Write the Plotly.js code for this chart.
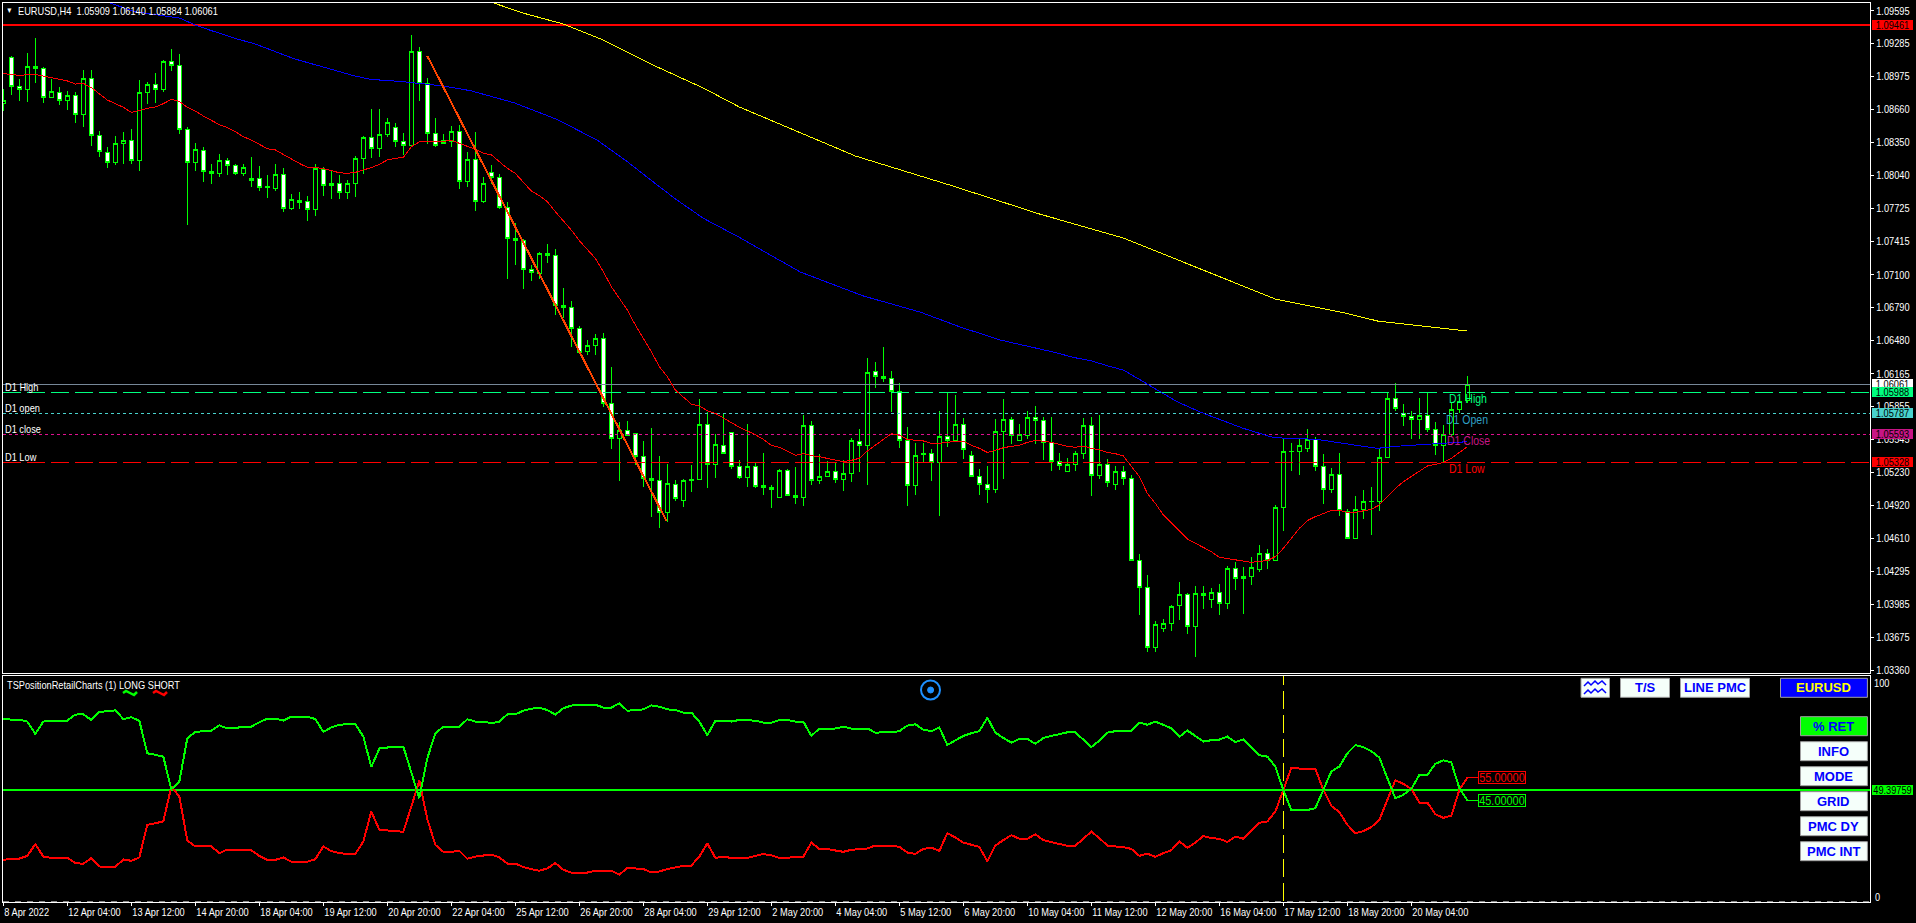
<!DOCTYPE html>
<html><head><meta charset="utf-8">
<script src="https://cdn.plot.ly/plotly-3.0.1.min.js"></script>
<style>
html,body{margin:0;padding:0;background:#000;overflow:hidden}
#c{width:1916px;height:923px}
.scatterlayer path,.boxlayer path{shape-rendering:crispEdges}
</style></head><body><div id="c"></div>
<script>
var FONT='"Liberation Sans",sans-serif';
var high=[1.08852,1.09167,1.08946,1.09195,1.09334,1.09060,1.08946,1.08871,1.08833,1.08827,
1.09031,1.09031,1.08455,1.08307,1.08408,1.08445,1.08477,1.08937,1.08921,1.09003,
1.09129,1.09230,1.09186,1.08493,1.08342,1.08304,1.08143,1.08238,1.08200,1.08143,
1.08143,1.08209,1.08127,1.08039,1.08143,1.08105,1.07863,1.07878,1.07841,1.08143,
1.08115,1.08077,1.08039,1.07992,1.08219,1.08408,1.08666,1.08666,1.08578,1.08531,
1.08436,1.09365,1.09249,1.08956,1.08578,1.08427,1.08502,1.08512,1.08257,1.08445,
1.08020,1.08134,1.08049,1.07784,1.07585,1.07434,1.07188,1.07312,1.07387,1.07340,
1.06971,1.06848,1.06612,1.06480,1.06537,1.06546,1.06225,1.05711,1.05721,1.05607,
1.05532,1.05648,1.05384,1.05311,1.05157,1.05166,1.05299,1.05922,1.05800,1.05591,
1.05790,1.05611,1.05349,1.05689,1.05317,1.05412,1.05113,1.05261,1.05261,1.05280,
1.05774,1.05714,1.05403,1.05336,1.05317,1.05346,1.05554,1.05639,1.06310,1.06272,
1.06414,1.06187,1.06073,1.05658,1.05506,1.05506,1.05450,1.05809,1.05988,1.05960,
1.05743,1.05431,1.05261,1.05289,1.05733,1.05922,1.05752,1.05686,1.05809,1.05856,
1.05752,1.05752,1.05412,1.05365,1.05431,1.05743,1.05752,1.05771,1.05355,1.05289,
1.05289,1.05204,1.04458,1.04259,1.03824,1.03843,1.03976,1.04193,1.04089,1.04155,
1.04155,1.04136,1.04174,1.04344,1.04382,1.04335,1.04429,1.04543,1.04505,1.04921,
1.05544,1.05506,1.05544,1.05639,1.05563,1.05403,1.05270,1.05412,1.04883,1.05006,
1.05062,1.05091,1.05450,1.05988,1.06073,1.05875,1.05809,1.05932,1.05988,1.05705,
1.05677,1.05884,1.05941,1.06140];
var low=[1.08650,1.08801,1.08745,1.08735,1.08915,1.08726,1.08773,1.08707,1.08660,1.08537,
1.08499,1.08320,1.08216,1.08112,1.08140,1.08150,1.08150,1.08083,1.08716,1.08726,
1.08830,1.09028,1.08433,1.07573,1.08083,1.07980,1.07961,1.08027,1.08045,1.08045,
1.08036,1.07932,1.07891,1.07828,1.07894,1.07696,1.07711,1.07724,1.07611,1.07658,
1.07847,1.07819,1.07819,1.07819,1.07838,1.08055,1.08206,1.08215,1.08398,1.08310,
1.08231,1.08323,1.08745,1.08332,1.08304,1.08332,1.08304,1.07907,1.07926,1.07705,
1.07781,1.07954,1.07718,1.07063,1.07195,1.06968,1.07044,1.07056,1.07207,1.06722,
1.06688,1.06414,1.06357,1.06345,1.06338,1.05853,1.05450,1.05148,1.05576,1.05305,
1.05091,1.04814,1.04710,1.04766,1.04965,1.04908,1.05050,1.05166,1.05088,1.05182,
1.05412,1.05261,1.05166,1.05097,1.05081,1.05021,1.04899,1.04993,1.05009,1.04936,
1.04917,1.05116,1.05119,1.05185,1.05135,1.05059,1.05144,1.05236,1.05110,1.06033,
1.06089,1.05806,1.05459,1.04917,1.05021,1.05327,1.05154,1.04823,1.05475,1.05522,
1.05362,1.05185,1.05021,1.04946,1.05040,1.05169,1.05497,1.05525,1.05547,1.05497,
1.05349,1.05248,1.05258,1.05242,1.05248,1.05362,1.05012,1.05173,1.05097,1.05069,
1.05116,1.04401,1.03887,1.03538,1.03538,1.03724,1.03736,1.03834,1.03708,1.03490,
1.03938,1.03947,1.03887,1.03941,1.04120,1.03897,1.04168,1.04287,1.04316,1.04401,
1.04681,1.05248,1.05210,1.05428,1.05242,1.04936,1.05040,1.04823,1.04599,1.04599,
1.04788,1.04643,1.04870,1.05365,1.05809,1.05673,1.05544,1.05544,1.05610,1.05393,
1.05327,1.05569,1.05790,1.05884];
var open=[1.08720,1.09154,1.08877,1.08849,1.09069,1.09050,1.08773,1.08824,1.08745,1.08795,
1.08612,1.08956,1.08417,1.08257,1.08159,1.08339,1.08370,1.08181,1.08824,1.08899,
1.08852,1.09117,1.09079,1.08474,1.08162,1.08276,1.08077,1.08058,1.08181,1.08134,
1.08058,1.07992,1.08011,1.07929,1.07913,1.08049,1.07727,1.07803,1.07793,1.07718,
1.08096,1.07945,1.07964,1.07878,1.07964,1.08200,1.08398,1.08294,1.08427,1.08493,
1.08360,1.08323,1.09211,1.08909,1.08436,1.08370,1.08360,1.08455,1.07982,1.08190,
1.07793,1.08068,1.08020,1.07737,1.07444,1.07425,1.07151,1.07113,1.07302,1.07283,
1.06811,1.06792,1.06593,1.06376,1.06433,1.06499,1.05885,1.05554,1.05626,1.05598,
1.05384,1.05176,1.05157,1.04855,1.05119,1.04968,1.05157,1.05166,1.05686,1.05308,
1.05488,1.05611,1.05289,1.05185,1.05289,1.05110,1.05091,1.04996,1.05251,1.05015,
1.04996,1.05677,1.05157,1.05195,1.05242,1.05166,1.05223,1.05525,1.05488,1.06187,
1.06140,1.06121,1.05998,1.05535,1.05110,1.05403,1.05412,1.05327,1.05573,1.05535,
1.05686,1.05393,1.05195,1.05119,1.05072,1.05620,1.05733,1.05535,1.05582,1.05752,
1.05724,1.05516,1.05336,1.05242,1.05308,1.05412,1.05677,1.05204,1.05308,1.05119,
1.05242,1.05176,1.04401,1.04146,1.03579,1.03758,1.03805,1.03976,1.04080,1.03777,
1.04089,1.04032,1.04098,1.03994,1.04325,1.04250,1.04250,1.04316,1.04467,1.04401,
1.04902,1.05428,1.05431,1.05459,1.05544,1.05289,1.05072,1.05214,1.04864,1.04609,
1.04883,1.04955,1.04958,1.05374,1.05932,1.05787,1.05762,1.05733,1.05771,1.05639,
1.05488,1.05592,1.05828,1.05909];
var close=[1.08748,1.08877,1.08852,1.09069,1.09047,1.08773,1.08833,1.08745,1.08795,1.08612,
1.08956,1.08417,1.08263,1.08162,1.08342,1.08370,1.08181,1.08824,1.08899,1.08852,
1.09117,1.09079,1.08474,1.08162,1.08285,1.08077,1.08058,1.08181,1.08134,1.08058,
1.08115,1.08011,1.07926,1.07923,1.08049,1.07727,1.07812,1.07784,1.07718,1.08108,
1.07945,1.07964,1.07878,1.07964,1.08200,1.08398,1.08294,1.08427,1.08540,1.08360,
1.08323,1.09211,1.08909,1.08436,1.08323,1.08342,1.08455,1.07982,1.08190,1.07793,
1.07964,1.08020,1.07737,1.07444,1.07425,1.07151,1.07122,1.07302,1.07283,1.06811,
1.06792,1.06593,1.06366,1.06433,1.06499,1.05885,1.05554,1.05626,1.05585,1.05384,
1.05176,1.05157,1.04855,1.05129,1.04987,1.05157,1.05163,1.05686,1.05308,1.05497,
1.05412,1.05289,1.05185,1.05289,1.05097,1.05091,1.05072,1.05251,1.05015,1.04996,
1.05677,1.05157,1.05195,1.05242,1.05166,1.05223,1.05535,1.05488,1.06177,1.06140,
1.06121,1.05998,1.05535,1.05110,1.05393,1.05412,1.05327,1.05573,1.05535,1.05686,
1.05450,1.05195,1.05119,1.05072,1.05620,1.05733,1.05582,1.05592,1.05752,1.05724,
1.05516,1.05336,1.05299,1.05308,1.05412,1.05677,1.05204,1.05308,1.05138,1.05242,
1.05176,1.04401,1.04146,1.03579,1.03796,1.03802,1.03966,1.04080,1.03777,1.04089,
1.04070,1.04098,1.03994,1.04325,1.04231,1.04231,1.04335,1.04467,1.04401,1.04902,
1.05431,1.05431,1.05488,1.05544,1.05289,1.05072,1.05214,1.04873,1.04609,1.04883,
1.04958,1.04958,1.05374,1.05932,1.05837,1.05762,1.05733,1.05771,1.05639,1.05488,
1.05592,1.05828,1.05903,1.06061];
var maRed=[1.09000,1.08990,1.08984,1.08990,1.08993,1.08978,1.08962,1.08953,1.08931,1.08902,
1.08908,1.08868,1.08808,1.08751,1.08716,1.08682,1.08634,1.08656,1.08672,1.08685,
1.08716,1.08757,1.08738,1.08682,1.08647,1.08600,1.08556,1.08518,1.08490,1.08452,
1.08404,1.08373,1.08332,1.08291,1.08279,1.08234,1.08190,1.08152,1.08115,1.08115,
1.08102,1.08083,1.08064,1.08058,1.08067,1.08090,1.08112,1.08143,1.08184,1.08200,
1.08209,1.08310,1.08354,1.08360,1.08360,1.08360,1.08370,1.08342,1.08319,1.08285,
1.08247,1.08234,1.08168,1.08105,1.08058,1.07979,1.07891,1.07847,1.07790,1.07696,
1.07607,1.07522,1.07422,1.07333,1.07255,1.07129,1.06987,1.06877,1.06767,1.06625,
1.06499,1.06373,1.06231,1.06136,1.06010,1.05947,1.05878,1.05859,1.05815,1.05790,
1.05749,1.05702,1.05658,1.05626,1.05588,1.05544,1.05488,1.05469,1.05434,1.05393,
1.05409,1.05390,1.05380,1.05365,1.05346,1.05333,1.05346,1.05365,1.05434,1.05491,
1.05547,1.05598,1.05582,1.05544,1.05535,1.05529,1.05506,1.05506,1.05516,1.05525,
1.05525,1.05488,1.05459,1.05421,1.05440,1.05465,1.05478,1.05488,1.05516,1.05535,
1.05525,1.05516,1.05497,1.05478,1.05469,1.05481,1.05459,1.05447,1.05421,1.05409,
1.05387,1.05286,1.05192,1.05034,1.04939,1.04829,1.04751,1.04672,1.04602,1.04562,
1.04524,1.04483,1.04429,1.04417,1.04404,1.04391,1.04382,1.04391,1.04398,1.04436,
1.04514,1.04609,1.04703,1.04776,1.04814,1.04842,1.04873,1.04873,1.04854,1.04854,
1.04870,1.04883,1.04924,1.05003,1.05081,1.05144,1.05192,1.05248,1.05292,1.05308,
1.05327,1.05365,1.05418,1.05475];
var maBlueBar=[13.3,16.5,22,24,25.8,28.8,31.5,34,36.3,38.8,41.3,43.8,45.9,50,55,58.4,63.8,69.2,74.2,78,82,84.2,87.5,92,99.6,107.5,114.6,119.6,124.6,128,131.6,133.7,135.9,138.4,140,142.5,146.7,150,155,158.8,164.2,167.5,171.7,174.6,178,182.7,183];
var maBlue=[1.09668,1.09585,1.09526,1.09460,1.09412,1.09337,1.09280,1.09205,1.09142,1.09088,1.09034,1.08981,1.08946,1.08924,1.08883,1.08839,1.08726,1.08568,1.08373,1.08168,1.07932,1.07806,1.07633,1.07453,1.07126,1.06899,1.06747,1.06606,1.06483,1.06426,1.06363,1.06319,1.06288,1.06231,1.06199,1.06089,1.05900,1.05790,1.05648,1.05560,1.05544,1.05506,1.05459,1.05481,1.05497,1.05516,1.05522];
var maYellowBar=[61.3,64.8,70,75,81.2,87.5,92,99.6,106.5,118.7,129.5,140,147.7,156.9,159,167.7,171.8,183];
var maYellow=[1.09668,1.09576,1.09469,1.09318,1.09082,1.08864,1.08685,1.08439,1.08222,1.07938,1.07674,1.07447,1.07211,1.06927,1.06870,1.06738,1.06662,1.06568];
var trendBar=[53,82.9];
var trendPrice=[1.09167,1.04773];
var longPct=[81.2,80.7,80.7,79.9,74.4,79.9,80.3,80.3,80.3,83.0,
83.1,80.6,84.3,84.4,84.9,81.0,81.8,80.3,65.8,65.1,
64.3,49.8,53.2,72.5,75.3,75.6,75.9,78.2,76.8,77.0,
77.6,77.6,79.6,81.2,81.2,80.3,82.1,82.1,82.1,81.0,
75.3,77.3,78.5,78.7,78.7,73.2,59.7,67.9,68.5,68.8,
68.8,57.7,45.8,63.6,74.7,77.6,77.6,77.6,80.9,79.9,
79.9,79.1,79.9,83.1,83.1,84.7,85.6,86.1,85.0,83.0,
85.8,87.0,87.4,87.4,87.4,86.1,86.1,88.0,84.7,85.0,
85.3,87.1,86.5,85.3,85.0,83.9,83.9,79.9,73.8,80.2,
79.9,79.9,80.6,80.6,80.3,79.4,79.4,80.6,80.6,79.9,
79.9,73.5,76.8,76.8,76.8,77.6,76.8,76.8,76.8,75.0,
75.0,75.1,75.6,78.1,78.7,76.3,75.6,77.3,69.5,71.4,
73.5,74.7,75.6,81.6,75.0,72.6,70.5,72.2,72.2,70.0,
72.6,73.5,74.4,75.1,75.1,71.7,68.6,71.4,75.0,75.6,
75.9,75.9,79.4,78.5,79.9,78.4,76.9,73.1,75.9,73.5,
71.0,71.6,71.9,73.2,70.8,71.9,68.5,64.9,64.3,59.9,
49.5,40.6,40.6,40.6,41.4,49.5,57.7,59.9,65.8,69.4,
68.5,66.7,63.9,54.7,45.8,47.3,50.0,56.2,56.2,61.1,
62.7,61.7,50.3,45.0];
var shortPct=[18.4,19.0,19.0,20.2,25.4,19.9,19.3,19.3,19.3,17.0,
16.7,19.2,15.5,15.3,15.3,18.6,18.0,19.5,34.0,34.7,
35.5,51.0,46.6,27.0,24.4,24.4,24.4,21.4,23.0,22.6,
22.6,22.6,20.2,18.4,18.4,19.5,17.6,17.6,17.6,18.7,
24.4,22.3,21.4,21.1,21.1,26.6,39.9,31.8,31.5,31.0,
30.9,42.1,53.7,36.5,25.1,22.0,22.0,22.4,18.9,19.9,
20.2,20.8,19.5,16.8,16.8,15.2,14.3,13.6,14.6,17.0,
14.0,12.8,12.8,12.8,13.6,13.6,13.6,11.8,14.9,14.6,
14.4,12.8,13.3,14.3,14.9,15.8,15.9,19.9,25.8,19.3,
19.8,19.3,19.3,19.3,20.2,21.0,20.5,19.3,19.3,19.8,
19.9,26.1,23.3,23.2,22.6,22.0,22.9,23.2,23.5,24.8,
24.9,24.7,24.2,21.7,21.1,23.3,23.9,22.4,30.3,28.4,
26.1,25.1,24.2,17.8,24.8,27.2,29.4,27.8,27.8,29.8,
27.2,26.3,25.4,24.7,24.7,27.9,31.0,28.1,24.8,24.4,
24.1,23.3,20.2,21.2,19.8,21.4,22.7,26.6,23.8,26.1,
29.0,28.1,27.8,26.4,28.8,27.8,31.5,34.9,35.5,39.9,
49.5,59.4,59.0,59.0,59.0,49.5,42.4,39.6,34.0,30.3,
31.2,33.0,36.2,45.1,53.8,52.2,50.0,43.9,43.9,38.7,
37.1,38.1,49.5,55.0];
var priceTicks=[1.09595,1.09285,1.08975,1.08660,1.08350,1.08040,1.07725,1.07415,1.07100,1.06790,1.06480,1.06165,1.05855,1.05545,1.05230,1.04920,1.04610,1.04295,1.03985,1.03675,1.03360];
var timeTickBars=[0,8,16,24,32,40,48,56,64,72,80,88,96,104,112,120,128,136,144,152,160,168,176];
var timeTickLabels=["8 Apr 2022","12 Apr 04:00","13 Apr 12:00","14 Apr 20:00","18 Apr 04:00","19 Apr 12:00","20 Apr 20:00","22 Apr 04:00","25 Apr 12:00","26 Apr 20:00","28 Apr 04:00","29 Apr 12:00","2 May 20:00","4 May 04:00","5 May 12:00","6 May 20:00","10 May 04:00","11 May 12:00","12 May 20:00","16 May 04:00","17 May 12:00","18 May 20:00","20 May 04:00"];
var levelResistance=1.09461, levelBid=1.06061, d1High=1.05988, d1Open=1.05787, d1Close=1.05593, d1Low=1.05328;
var midLevel=49.39759, lastLong=45, lastShort=55, crossBar=160;

var bars=high.map(function(_,i){return i});
var X0=3,X1=1870,Y0=3,Y1=902;
function px(x){return (x-X0)/(X1-X0)}
function py(y){return 1-(y-Y0)/(Y1-Y0)}
var xr=[-0.04,233.33];
function hl(v,c,w,d){return {x:xr,y:[v,v],mode:'lines',line:{color:c,width:w,dash:d||'solid'},hoverinfo:'skip',cliponaxis:true}}
var DASH='18px,6px',DOT='3px,3px';
var traces=[
 hl(levelBid,'#778899',1),hl(d1High,'#00ff7f',1,DASH),hl(d1Open,'#48d1cc',1,DOT),hl(d1Close,'#e0108f',1,DOT),hl(d1Low,'#ff0000',1,DASH),hl(levelResistance,'#ff0000',2),
 {type:'candlestick',x:bars,open:open,high:high,low:low,close:close,whiskerwidth:0,
  increasing:{line:{color:'#00ff00',width:1},fillcolor:'#000000'},
  decreasing:{line:{color:'#00ff00',width:1},fillcolor:'#ffffff'},width:0.5,hoverinfo:'skip'},
 {x:bars,y:maRed,mode:'lines',line:{color:'#ff0000',width:1}},
 {x:maBlueBar,y:maBlue,mode:'lines',line:{color:'#0000ff',width:1}},
 {x:maYellowBar,y:maYellow,mode:'lines',line:{color:'#ffff00',width:1}},
 {x:trendBar,y:trendPrice,mode:'lines',line:{color:'#ff4500',width:2}},
 {x:xr,y:[0,0],xaxis:'x2',yaxis:'y2',mode:'lines',line:{color:'#888888',width:1,dash:'6px,6px'}},
 {x:[crossBar,crossBar],y:[0,100],xaxis:'x2',yaxis:'y2',mode:'lines',line:{color:'#ffff00',width:1,dash:DASH}},
 {x:xr,y:[midLevel,midLevel],xaxis:'x2',yaxis:'y2',mode:'lines',line:{color:'#00ff00',width:2}},
 {x:bars,y:shortPct,xaxis:'x2',yaxis:'y2',mode:'lines',line:{color:'#ff0000',width:2}},
 {x:bars,y:longPct,xaxis:'x2',yaxis:'y2',mode:'lines',line:{color:'#00ff00',width:2}},
 {x:[183,184.3],y:[lastShort,lastShort],xaxis:'x2',yaxis:'y2',mode:'lines',line:{color:'#ff0000',width:1}},
 {x:[183,184.3],y:[lastLong,lastLong],xaxis:'x2',yaxis:'y2',mode:'lines',line:{color:'#00ff00',width:1}}
];
var ann=[],shapes=[];
function txt(t,x,y,c,s){ann.push({xref:'paper',yref:'paper',x:px(x),y:py(y),text:t,showarrow:false,xanchor:'left',yanchor:'middle',align:'left',font:{family:FONT,size:s||11,color:c||'#ffffff'},borderpad:0,borderwidth:0})}
function tag(t,y,bg,c){ann.push({xref:'paper',yref:'paper',x:px(1872),y:py(y),text:t,showarrow:false,xanchor:'left',yanchor:'middle',width:41,height:10,align:'center',bgcolor:bg,borderpad:0,borderwidth:0,font:{family:FONT,size:11,color:c}})}
function btn(t,x0,x1,y0,y1,bg,c){
 shapes.push({type:'rect',xref:'paper',yref:'paper',x0:px(x0),x1:px(x1),y0:py(y0),y1:py(y1),fillcolor:bg,line:{color:'#a0a0a0',width:1},layer:'above'});
 if(t)ann.push({xref:'paper',yref:'paper',x:px((x0+x1)/2),y:py((y0+y1)/2),text:'<b>'+t+'</b>',showarrow:false,xanchor:'center',yanchor:'middle',borderwidth:0,font:{family:FONT,size:13,color:c}});
}
function path(pts,c,w){var d=pts.map(function(p,i){return (i?'L':'M')+px(p[0]).toFixed(6)+','+py(p[1]).toFixed(6)}).join(' ');
 shapes.push({type:'path',xref:'paper',yref:'paper',path:d,line:{color:c,width:w},layer:'above'})}

txt('EURUSD,H4&nbsp;&nbsp;1.05909 1.06140 1.05884 1.06061',18.4,10.7);
txt('▼',6,10.7,'#ffffff',8);
txt('TSPositionRetailCharts (1) LONG SHORT',7.3,684.7);
txt('D1 High',5.3,386.7);txt('D1 open',5.3,407.7);txt('D1 close',5.3,428.7);txt('D1 Low',5.3,456.7);
txt('D1 High',1449,399.3,'#00ff7f',12.5);txt('D1 Open',1446,420.3,'#2f9fc4',12.5);txt('D1 Close',1447,441,'#c71585',12.5);txt('D1 Low',1449,469.3,'#ff0000',12.5);
tag('1.06061',384.3,'#ffffff','#000000');
tag('1.05988',392.3,'#00ff7f','#000000');
tag('1.05787',413.3,'#48d1cc','#000000');
tag('1.05593',434.3,'#c71585','#000000');
tag('1.05328',462.3,'#ff0000','#000000');
tag('1.09461',25,'#ff0000','#000000');
tag('49.39759',790,'#00ff00','#000000');
txt('100',1874,682.7);txt('0',1875,897);
function valbox(t,v,c){ann.push({xref:'x2',yref:'y2',x:184.3,y:v,text:t,showarrow:false,xanchor:'left',yanchor:'middle',width:46,height:10.5,align:'center',bordercolor:c,borderwidth:1,borderpad:0,bgcolor:'#000000',font:{family:FONT,size:13,color:c}})}
valbox('55.00000',lastShort,'#ff0000');valbox('45.00000',lastLong,'#00ff00');

btn('',1581,1609.5,678.3,697.3,'#f5fffa');
path([[1584,686],[1588,682],[1591,685],[1595,681],[1598,684],[1602,681],[1606,685]],'#0000ff',1.5);
path([[1584,694],[1588,690],[1591,693],[1595,689],[1598,692],[1602,689],[1606,693]],'#0000ff',1.5);
btn('T/S',1620.5,1669.5,678.3,697.3,'#f5fffa','#0000ff');
btn('LINE PMC',1680.5,1749.5,678.3,697.3,'#f5fffa','#0000ff');
btn('EURUSD',1780.5,1867.4,678.3,697.3,'#0000ff','#ffff00');
btn('% RET',1800.5,1867.4,716.7,735.7,'#00ff00','#0000ff');
btn('INFO',1800.5,1867.4,741.7,760.7,'#f5fffa','#0000ff');
btn('MODE',1800.5,1867.4,766.7,785.7,'#f5fffa','#0000ff');
btn('GRID',1800.5,1867.4,791.7,810.7,'#f5fffa','#0000ff');
btn('PMC DY',1800.5,1867.4,816.7,835.7,'#f5fffa','#0000ff');
btn('PMC INT',1800.5,1867.4,841.7,860.7,'#f5fffa','#0000ff');
shapes.push({type:'circle',xref:'paper',yref:'paper',x0:px(921),x1:px(940),y0:py(680.5),y1:py(699.5),line:{color:'#1e90ff',width:2},layer:'above'});
shapes.push({type:'circle',xref:'paper',yref:'paper',x0:px(927.6),x1:px(933.6),y0:py(687),y1:py(693),fillcolor:'#1e90ff',line:{color:'#1e90ff',width:1},layer:'above'});
path([[123,693],[126,691],[130,693],[134,695],[137,692]],'#00ff00',2.5);
path([[153,693],[156,691],[160,693],[164,695],[167,692]],'#ff0000',2.5);

var Ysplit=(Y1-673)/(Y1-Y0), Ysub=(Y1-675.5)/(Y1-Y0);
var axBase={showgrid:false,zeroline:false,showline:true,mirror:true,linecolor:'#ffffff',linewidth:1,fixedrange:true};
var layout={width:1916,height:923,paper_bgcolor:'#000000',plot_bgcolor:'#000000',showlegend:false,hovermode:false,
 margin:{l:X0,r:1916-X1,t:Y0,b:923-Y1,pad:0},
 font:{family:FONT,size:11,color:'#ffffff'},
 xaxis:Object.assign({},axBase,{domain:[0,1],range:xr,anchor:'y',showticklabels:false,ticks:'',rangeslider:{visible:false},type:'linear'}),
 yaxis:Object.assign({},axBase,{domain:[Ysplit,1],range:[1.033361,1.096677],side:'right',anchor:'x',tickmode:'array',tickvals:priceTicks,ticktext:priceTicks.map(function(v){return v.toFixed(5)}),ticks:'outside',ticklen:3,tickcolor:'#ffffff',tickwidth:1,tickfont:{family:FONT,size:11,color:'#ffffff'}}),
 xaxis2:Object.assign({},axBase,{domain:[0,1],range:xr,anchor:'y2',tickmode:'array',tickvals:timeTickBars,ticktext:timeTickLabels,ticks:'outside',ticklen:3,tickcolor:'#ffffff',tickangle:0,ticklabelposition:'outside right',tickfont:{family:FONT,size:11,color:'#ffffff'},type:'linear'}),
 yaxis2:Object.assign({},axBase,{domain:[0,Ysub],range:[-0.3,100.36],side:'right',anchor:'x2',showticklabels:false,ticks:''}),
 annotations:ann,shapes:shapes};
Plotly.newPlot('c',traces,layout,{staticPlot:true,displayModeBar:false}).then(function(){
 // narrow the glyphs to the width of the terminal's bitmap font
 document.querySelectorAll('.ytick text,.x2tick text,.annotation-text').forEach(function(t){
  if(t.querySelector('[style*="bold"]'))return;
  var L=t.getComputedTextLength();
  t.setAttribute('lengthAdjust','spacingAndGlyphs');
  t.setAttribute('textLength',(L*0.84).toFixed(1));
 });
});
</script></body></html>
